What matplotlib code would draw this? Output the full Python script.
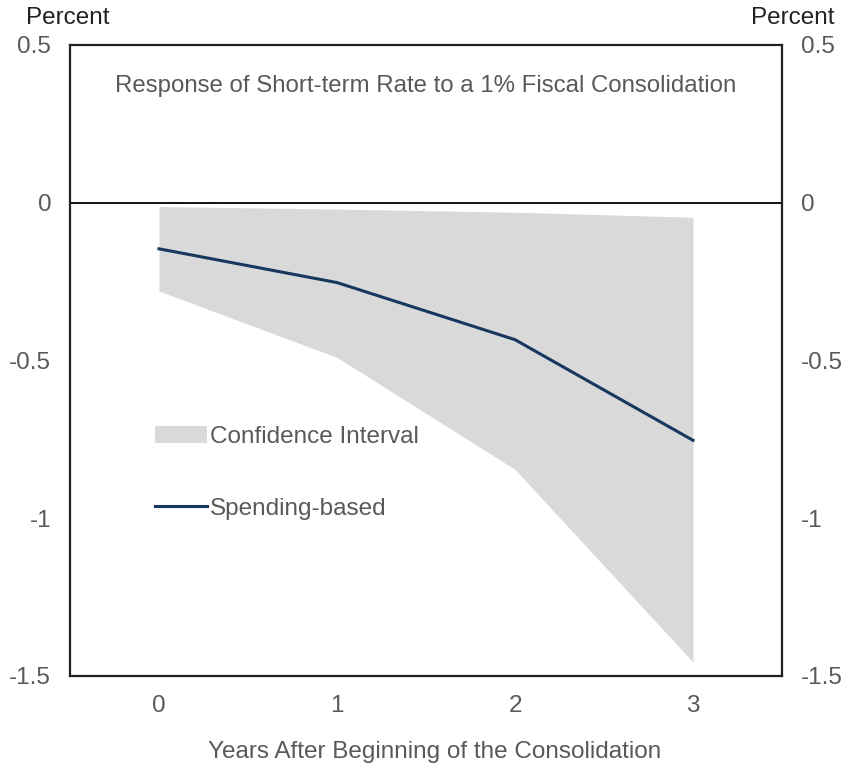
import matplotlib
matplotlib.use("Agg")
import matplotlib.pyplot as plt
from matplotlib.patches import Patch
from matplotlib.lines import Line2D

plt.rcParams['font.family'] = ['Liberation Sans', 'DejaVu Sans']

years = [0, 1, 2, 3]
spending_based = [-0.146, -0.253, -0.434, -0.753]
ci_upper = [-0.012, -0.020, -0.030, -0.046]
ci_lower = [-0.280, -0.490, -0.845, -1.456]

gray_txt = '#595959'
fs = 17.5

fig = plt.figure(figsize=(8.45, 7.69), dpi=100)
ax = fig.add_axes([70/845, 1 - 676/769, 712/845, 631/769])

ax.fill_between(years, ci_lower, ci_upper, color='#d9d9d9', lw=0, zorder=1)
ax.plot(years, spending_based, color='#17375e', lw=2.2, zorder=3)
ax.axhline(0, color='black', lw=1.3, zorder=2)

ax.set_xlim(-0.5, 3.5)
ax.set_ylim(-1.5, 0.5)
ax.set_xticks(years)
ax.set_yticks([-1.5, -1, -0.5, 0, 0.5])
ax.set_yticklabels(['-1.5', '-1', '-0.5', '0', '0.5'])
ax.tick_params(axis='both', length=0, labelsize=fs, colors=gray_txt)
ax.tick_params(axis='x', pad=14)
ax.tick_params(axis='y', pad=13.5)
ax.tick_params(axis='y', which='both', labelright=True, right=False)
for s in ax.spines.values():
    s.set_linewidth(1.6)
    s.set_color('#222222')

ax.set_xlabel('Years After Beginning of the Consolidation', fontsize=fs,
              color=gray_txt, labelpad=20)
ax.xaxis.set_label_coords(0.512, -0.1)
ax.xaxis.label.set_va('center')
ax.xaxis.set_label_coords(0.512, (676 - 752) / 631)

ax.text(0.5, 0.935, 'Response of Short-term Rate to a 1% Fiscal Consolidation',
        transform=ax.transAxes, ha='center', va='center', fontsize=17.3,
        color=gray_txt)

fig.text(68/845, 1 - 18/769, 'Percent', ha='center', va='center',
         fontsize=fs, color='#222222')
fig.text(793/845, 1 - 18/769, 'Percent', ha='center', va='center',
         fontsize=fs, color='#222222')

handles = [Patch(facecolor='#d9d9d9', edgecolor='none'),
           Line2D([], [], color='#17375e', lw=2.2)]
ax.legend(handles, ['Confidence Interval', 'Spending-based'],
          loc='center left', bbox_to_anchor=(0.103, 0.322), frameon=False,
          fontsize=fs, labelcolor=gray_txt, handlelength=2.1,
          handletextpad=0.15, labelspacing=2.05, borderpad=0)

fig.savefig('out.png', dpi=100, facecolor='white')
